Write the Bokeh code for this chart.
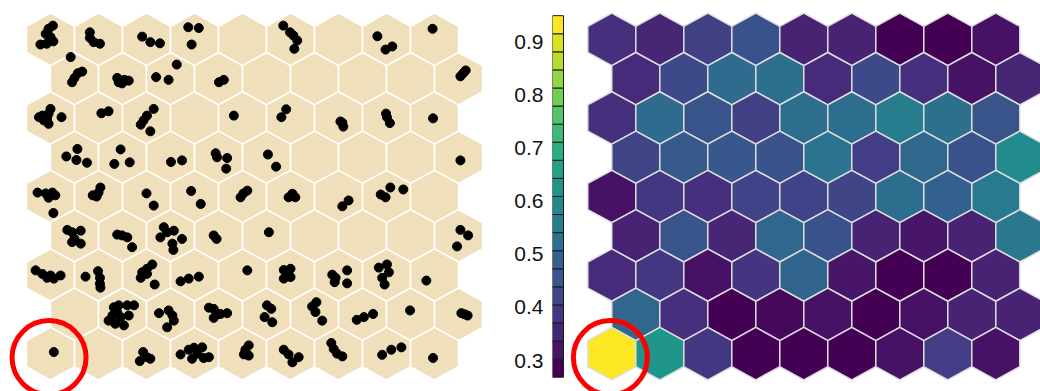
from bokeh.plotting import figure
from bokeh.layouts import row
from bokeh.models import Range1d, LinearAxis, FixedTicker, ColumnDataSource
from bokeh.palettes import Viridis256, viridis
from bokeh.transform import linear_cmap
from bokeh.embed import file_html
from bokeh.resources import INLINE

# ---- SOM grid: 9 x 9 hexagonal units (odd rows shifted right by half a unit)
N_ROWS, N_COLS = 9, 9

# Mean distance of each unit to its neighbours (U-matrix), row 0 at the top
umatrix = [
    [0.364, 0.343, 0.398, 0.439, 0.337, 0.337, 0.270, 0.270, 0.303],
    [0.350, 0.418, 0.507, 0.521, 0.350, 0.418, 0.364, 0.303, 0.343],
    [0.364, 0.507, 0.446, 0.398, 0.514, 0.514, 0.555, 0.521, 0.446],
    [0.412, 0.459, 0.453, 0.439, 0.527, 0.391, 0.493, 0.439, 0.596],
    [0.303, 0.378, 0.364, 0.405, 0.405, 0.412, 0.514, 0.480, 0.548],
    [0.337, 0.446, 0.343, 0.493, 0.439, 0.337, 0.310, 0.337, 0.541],
    [0.350, 0.378, 0.303, 0.371, 0.487, 0.310, 0.270, 0.270, 0.337],
    [0.493, 0.364, 0.270, 0.282, 0.303, 0.270, 0.303, 0.337, 0.337],
    [0.950, 0.623, 0.378, 0.270, 0.270, 0.270, 0.303, 0.391, 0.303],
]

# Samples mapped onto the grid (x in unit columns, y in unit rows, jittered)
dot_x = [
    0.05, -0.04, -0.10, 0.00, 0.06, -0.08, -0.21,
    0.82, 0.82, 0.90, 1.03,
    1.91, 2.08, 2.28,
    2.87, 3.09, 2.94,
    4.85, 4.99, 5.06, 5.14, 5.08,
    6.81, 6.98, 7.12,
    7.96,
    0.42, 0.66, 0.57, 0.50, 0.45,
    1.39, 1.46, 1.54, 1.63, 1.49, 1.42,
    2.63, 2.20, 2.46,
    3.51, 3.61,
    8.54, 8.60, 8.65,
    0.00, -0.04, -0.24, -0.14, -0.04, -0.07, 0.23, -0.17,
    1.06, 1.21,
    2.15, 2.01, 1.94, 1.88, 2.08,
    3.82,
    4.91, 4.81,
    6.04, 6.10, 6.08,
    6.99, 7.01, 7.07,
    7.97,
    0.56, 0.33, 0.54, 0.76,
    1.46, 1.33, 1.65,
    2.51, 2.74,
    3.44, 3.47, 3.68, 3.66,
    4.53, 4.70,
    8.54,
    -0.27, -0.10, 0.04, -0.04, 0.10, 0.06,
    0.88, 1.04, 1.00, 0.96,
    2.00, 2.15,
    2.93, 3.13,
    4.10, 4.02, 3.96,
    5.04, 4.96, 5.10, 5.04,
    6.21, 6.08,
    6.88, 6.98, 7.08, 7.35,
    0.35, 0.45, 0.63, 0.50, 0.45, 0.63,
    1.39, 1.49, 1.60, 1.70,
    2.36, 2.29, 2.43, 2.57, 2.74, 2.54, 2.56,
    3.40, 3.46,
    4.55,
    8.54, 8.70, 8.47,
    -0.31, -0.17, -0.07, 0.07, 0.21, 0.00,
    0.73, 0.99, 1.03, 1.03, 1.04,
    2.12, 2.01, 1.91, 1.88, 2.01, 2.17,
    2.71, 2.88, 3.09,
    4.10,
    4.86, 5.00, 4.93, 4.86, 5.00,
    5.87, 5.94, 5.92, 6.18, 6.18,
    6.84, 7.01, 7.05, 6.91, 6.96,
    7.83,
    1.32, 1.42, 1.60, 1.74, 1.29, 1.21, 1.35, 1.53, 1.46, 1.63, 1.39,
    2.26, 2.46, 2.54, 2.57, 2.43,
    3.30, 3.40, 3.47, 3.54, 3.68, 3.40,
    4.51, 4.60, 4.46, 4.62,
    5.54, 5.45, 5.52, 5.66,
    6.38, 6.53, 6.72,
    7.49,
    8.56, 8.63, 8.69,
    0.07,
    1.93, 2.01, 1.86, 2.08,
    2.71, 2.88, 2.99, 3.16, 3.06, 3.19, 3.30, 2.95,
    4.13, 4.06, 4.03, 4.13,
    4.86, 4.96, 5.04, 5.17,
    5.85, 5.90, 5.97, 6.08,
    6.91, 7.10, 7.31,
    7.97,
]
dot_y = [
    -0.35, -0.27, -0.14, -0.06, 0.05, 0.11, 0.13,
    -0.18, -0.04, 0.07, 0.11,
    -0.07, 0.07, 0.10,
    -0.31, -0.29, 0.13,
    -0.35, -0.18, -0.10, 0.03, 0.24,
    -0.08, 0.26, 0.18,
    -0.27,
    0.45, 0.82, 0.86, 0.98, 1.09,
    0.98, 1.05, 1.03, 1.05, 1.12, 1.09,
    0.64, 0.96, 1.03,
    1.09, 1.03,
    0.94, 0.86, 0.79,
    1.77, 1.89, 1.98, 2.06, 2.15, 2.02, 1.98, 1.94,
    1.88, 1.83,
    1.77, 1.94, 2.06, 2.17, 2.34,
    1.94,
    1.78, 1.98,
    2.09, 2.22, 2.12,
    1.89, 1.98, 2.13,
    2.01,
    2.79, 2.98, 3.07, 3.14,
    2.80, 3.17, 3.13,
    3.12, 3.08,
    2.90, 3.00, 3.02, 3.29,
    2.93, 3.24,
    3.08,
    3.90, 3.92, 3.90, 4.03, 3.97, 4.42,
    3.97, 3.77, 3.90, 4.00,
    3.92, 4.23,
    3.86, 4.19,
    3.85, 3.92, 4.02,
    3.93, 4.02, 4.02, 3.97,
    4.10, 4.25,
    3.95, 4.02, 3.77, 3.82,
    4.85, 4.91, 4.87, 5.08, 5.16, 5.20,
    4.97, 4.99, 5.04, 5.29,
    4.78, 5.04, 4.91, 4.87, 5.08, 5.20, 5.36,
    4.99, 5.08,
    4.91,
    4.85, 4.99, 5.27,
    5.88, 5.97, 6.07, 6.09, 6.01, 6.01,
    6.04, 5.90, 6.07, 6.22, 6.32,
    5.73, 5.84, 5.93, 6.07, 5.97, 6.24,
    6.16, 6.09, 6.04,
    5.88,
    5.87, 5.84, 6.01, 6.09, 6.05,
    5.99, 6.07, 6.18, 5.88, 6.21,
    5.81, 5.73, 5.93, 6.07, 6.24,
    6.14,
    6.82, 6.77, 6.77, 6.77, 7.03, 7.16, 7.24, 7.28, 7.07, 7.03, 6.95,
    6.97, 6.90, 7.03, 7.16, 7.33,
    6.83, 6.86, 7.00, 6.99, 6.97, 7.09,
    6.77, 6.86, 7.07, 7.20,
    6.69, 6.80, 6.94, 7.16,
    7.14, 7.07, 6.99,
    6.90,
    6.97, 7.00, 7.03,
    7.96,
    7.96, 8.09, 8.19, 8.13,
    8.02, 7.90, 7.85, 7.84, 8.00, 8.11, 8.09, 8.13,
    7.79, 7.90, 8.02, 8.05,
    7.90, 8.02, 8.22, 8.09,
    7.73, 7.88, 8.00, 8.07,
    8.03, 7.90, 7.84,
    8.11,
]

# Unit of interest (row, column)
highlight_cell = (8, 0)

# Colour bar
cbar_low, cbar_high = 0.2685, 0.95
cbar_ticks = [0.3, 0.4, 0.5, 0.6, 0.7, 0.8, 0.9]
n_bands = 20


def unit_centre(r, c):
    return c + 0.5 * (r % 2), r


def hexagon(cx, cy):
    # pointy-top hexagon: half-width 0.5 column, vertical radius 2/3 row
    dx = [0.0, 0.5, 0.5, 0.0, -0.5, -0.5]
    dy = [-2 / 3, -1 / 3, 1 / 3, 2 / 3, 1 / 3, -1 / 3]
    return [cx + a for a in dx], [cy + b for b in dy]


hex_xs, hex_ys, hex_val = [], [], []
for r in range(N_ROWS):
    for c in range(N_COLS):
        cx, cy = unit_centre(r, c)
        xs, ys = hexagon(cx, cy)
        hex_xs.append(xs)
        hex_ys.append(ys)
        hex_val.append(umatrix[r][c])

hex_src = ColumnDataSource(dict(xs=hex_xs, ys=hex_ys, value=hex_val))
hx, hy = unit_centre(*highlight_cell)
ring_x, ring_y = [hx - 0.03], [hy + 0.1]

PX_X = 48.0      # pixels per grid column
PX_Y = 39.28     # pixels per grid row
H = 391
y_top = -38.9 / PX_Y
grid_y = Range1d(start=y_top + H / PX_Y, end=y_top)

# ---- left: samples mapped to units
LW = 510
lx0 = -50 / PX_X
left = figure(width=LW, height=H, x_range=Range1d(lx0, lx0 + LW / PX_X),
              y_range=grid_y, output_backend="svg", toolbar_location=None,
              x_axis_location=None, y_axis_location=None, min_border=0)
left.grid.visible = False
left.outline_line_color = None
left.background_fill_color = "white"
left.patches("xs", "ys", source=hex_src, fill_color="#efdfbb",
             line_color="white", line_width=1.5)
left.scatter(dot_x, dot_y, size=9, fill_color="black", line_color="black")
left.scatter(ring_x, ring_y, size=74, fill_color=None, line_color="#ff0000",
             line_width=5)

# ---- right: U-matrix with colour bar
RW = 530
frame_left = 42
rx0 = -(611.3 - LW - frame_left) / PX_X
cb_per_px = (0.9 - 0.3) / (360.0 - 41.7)
cb_range = Range1d(start=0.3 - (H - 360.0) * cb_per_px, end=0.9 + 41.7 * cb_per_px)

right = figure(width=RW, height=H, x_range=Range1d(rx0, rx0 + (RW - frame_left) / PX_X),
               y_range=Range1d(start=grid_y.start, end=grid_y.end),
               output_backend="svg", toolbar_location=None,
               x_axis_location=None, y_axis_location=None,
               min_border=0, min_border_left=frame_left)
right.extra_y_ranges = {"cbar": cb_range}
right.grid.visible = False
right.outline_line_color = None

right.patches("xs", "ys", source=hex_src,
              fill_color=linear_cmap("value", Viridis256, cbar_low, cbar_high),
              line_color="#dedede", line_width=1.5)
right.scatter(ring_x, ring_y, size=74, fill_color=None, line_color="#ff0000",
              line_width=5)

band = (cbar_high - cbar_low) / n_bands
bottoms = [cbar_low + i * band for i in range(n_bands)]
tops = [b + band for b in bottoms]
bar_w = 11 / PX_X
right.quad(left=rx0, right=rx0 + bar_w, bottom=bottoms, top=tops,
           fill_color=viridis(n_bands), line_color="#1a1a1a", line_width=1,
           y_range_name="cbar")

cb_axis = LinearAxis(y_range_name="cbar", ticker=FixedTicker(ticks=cbar_ticks),
                     major_tick_line_color=None, minor_tick_line_color=None,
                     axis_line_color=None, major_label_standoff=3,
                     major_label_text_font="Liberation Sans",
                     major_label_text_font_size="21px",
                     major_label_text_color="#111111")
right.add_layout(cb_axis, "left")

layout = row(left, right, spacing=0)

open("out.html", "w").write(file_html(layout, INLINE))
